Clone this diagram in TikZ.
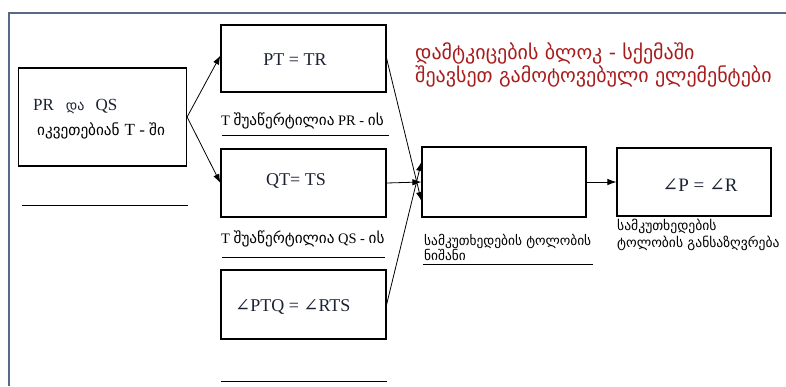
\documentclass[tikz,border=0pt]{standalone}
\usepackage{fontspec}
\setmainfont{Liberation Serif}
\newfontfamily\geo{DejaVu Sans}
\newfontfamily\symf{DejaVu Serif}
\usetikzlibrary{arrows.meta}
\definecolor{framecol}{HTML}{566A88}
\definecolor{titlered}{HTML}{A81C1C}
\definecolor{ink}{HTML}{1C2233}
% Georgian words, Latin words among them, and the angle sign
\newcommand\ka[1]{{\geo\fontsize{14}{17}\selectfont #1}}
\newcommand\kab[1]{{\geo\fontsize{15.2}{17}\selectfont #1}}
\newcommand\la[1]{{\rmfamily\fontsize{17}{19}\selectfont #1}}
\newcommand\ang{{\symf\char"2220}}
\begin{document}
\begin{tikzpicture}[x=1pt,y=-1pt,
  box/.style={draw, line width=1.2pt, inner sep=0pt},
  eq/.style={font=\fontsize{18}{20}\selectfont, text=ink, inner sep=0pt},
  lbl/.style={font=\fontsize{14.5}{17}\selectfont, inner sep=0pt, anchor=base west},
  conn/.style={line width=0.8pt, -{Latex[length=9pt,width=6.5pt]}},
  rule/.style={line width=1pt}]
\useasboundingbox (0,0) rectangle (786,386);

% page frame
\draw[framecol, line width=2pt] (9,386) -- (9,13) -- (786,13);

% blocks
\node[box, minimum width=168pt, minimum height=98pt] (A) at (102.5,117) {};
\node[box, minimum width=165pt, minimum height=67pt] (B) at (303.5,58.5) {};
\node[box, minimum width=165pt, minimum height=68pt] (C) at (303.5,183) {};
\node[box, minimum width=165pt, minimum height=69pt] (D) at (303.5,304.5) {};
\node[box, minimum width=164pt, minimum height=70pt] (E) at (504,182) {};
\node[box, minimum width=154pt, minimum height=68pt] (F) at (694,182) {};

% block contents
\node[eq, anchor=base west, font=\fontsize{17}{19}\selectfont] (a1) at (33,110)
  {PR\hspace{12pt}\ka{და}\hspace{11pt}QS};
\node[inner sep=0pt, anchor=base west, font=\geo\fontsize{15.2}{18}\selectfont] (a2) at (37,135)
  {იკვეთებიან\hspace{5pt}\la{T - }ში};
\node[eq, anchor=base] (b1) at (295,65) {PT = TR};
\node[eq, anchor=base] (c1) at (296,185) {QT= TS};
\node[eq, anchor=base west] (d1) at (235,311) {\ang PTQ = \ang RTS};
\node[eq, anchor=base, font=\fontsize{19}{21}\selectfont] (f1) at (700,191) {\ang P = \ang R};

% captions under the blocks
\node[lbl] (bl) at (221,125) {T \kab{შუაწერტილია} PR - \kab{ის}};
\node[lbl] (cl) at (221,243) {T \kab{შუაწერტილია} QS - \kab{ის}};
\node[lbl, align=left, anchor=north west, font=\geo\fontsize{13.4}{15}\selectfont] (el) at (424,234)
  {სამკუთხედების ტოლობის\\ნიშანი};
\node[lbl, align=left, anchor=north west, font=\geo\fontsize{13.6}{17}\selectfont] (fl) at (617,219)
  {სამკუთხედების\\ტოლობის განსაზღვრება};

% title
\node[anchor=north west, inner sep=0pt, align=left, text=titlered,
      font=\geo\fontsize{20}{19}\selectfont] (title) at (415,43)
  {დამტკიცების ბლოკ - სქემაში\\შეავსეთ გამოტოვებული ელემენტები};

% answer lines
\coordinate (u1a) at (22,205);  \coordinate (u1b) at (188,205);
\coordinate (u2a) at (222,135); \coordinate (u2b) at (389,135);
\coordinate (u3a) at (222,257); \coordinate (u3b) at (385,257);
\coordinate (u4a) at (221,381); \coordinate (u4b) at (387,381);
\coordinate (u5a) at (423,264); \coordinate (u5b) at (593,264);
\draw[rule] (u1a) -- (u1b);
\draw[rule] (u2a) -- (u2b);
\draw[rule] (u3a) -- (u3b);
\draw[rule] (u4a) -- (u4b);
\draw[rule] (u5a) -- (u5b);

% connectors
\coordinate (eTop) at ([yshift=-19pt]E.west);
\coordinate (eBot) at ([yshift=20pt]E.west);
\draw[conn] (A.east) -- ([yshift=3pt]B.west);
\draw[conn] (A.east) -- (C.west);
\draw[conn] (B.east) -- (eTop);
\draw[conn] (C.east) -- (E.west);
\draw[conn] (D.east) -- (eBot);
\draw[conn] (E.east) -- (F.west);
\end{tikzpicture}
\end{document}
